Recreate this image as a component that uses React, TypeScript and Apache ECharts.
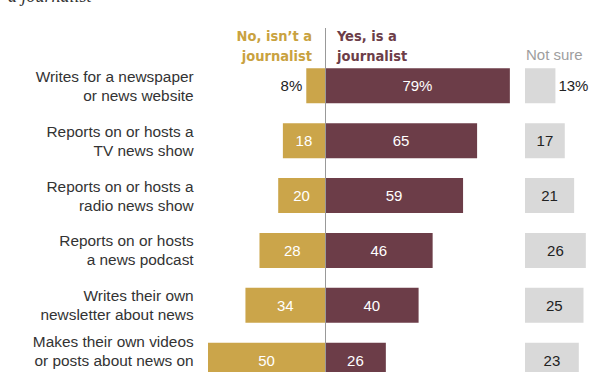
import React, { useEffect, useRef } from "react";
import * as echarts from "echarts";

const categories = [
  "Writes for a newspaper\nor news website",
  "Reports on or hosts a\nTV news show",
  "Reports on or hosts a\nradio news show",
  "Reports on or hosts\na news podcast",
  "Writes their own\nnewsletter about news",
  "Makes their own videos\nor posts about news on\nsocial media",
];
const noVals = [8, 18, 20, 28, 34, 50];
const yesVals = [79, 65, 59, 46, 40, 26];
const notSureVals = [13, 17, 21, 26, 25, 23];

const GOLD = "#CBA54A";
const MAROON = "#6C3D48";
const GRAY = "#D9D9D9";
const FONT = "'Liberation Sans', Arial, sans-serif";
const NARROW = "'Liberation Sans Narrow', 'DejaVu Sans Condensed', 'Liberation Sans', sans-serif";

export default function App() {
  const ref = useRef<HTMLDivElement>(null);
  useEffect(() => {
    document.body.style.margin = "0";
    const chart = echarts.init(ref.current!, null, { renderer: "svg" });
    const scale = 2.34;
    const center = 325;
    const min0 = -54;
    const max0 = 80;
    const top = 58.3;
    const rowH = 54.9;
    const gridH = rowH * categories.length;
    chart.setOption({
      animation: false,
      textStyle: { fontFamily: FONT },
      grid: [
        { left: center + min0 * scale, top, width: (max0 - min0) * scale, height: gridH },
        { left: 525, top, width: 30 * scale, height: gridH },
      ],
      xAxis: [
        { gridIndex: 0, type: "value", min: min0, max: max0, show: false },
        { gridIndex: 1, type: "value", min: 0, max: 30, show: false },
      ],
      yAxis: [
        {
          gridIndex: 0,
          type: "category",
          data: categories,
          inverse: true,
          axisLine: { show: false },
          axisTick: { show: false },
          axisLabel: { color: "#333", fontSize: 15.4, lineHeight: 19, margin: 5, fontFamily: FONT },
        },
        {
          gridIndex: 1,
          type: "category",
          data: categories,
          inverse: true,
          axisLine: { show: false },
          axisTick: { show: false },
          axisLabel: { show: false },
        },
      ],
      series: [
        {
          name: "No, isn't a journalist",
          type: "bar",
          xAxisIndex: 0,
          yAxisIndex: 0,
          barWidth: 35,
          itemStyle: { color: GOLD },
          data: noVals.map((v, i) => ({
            value: -v,
            label:
              i === 0
                ? { position: "left", color: "#222", distance: 4 }
                : undefined,
          })),
          label: {
            show: true,
            position: "inside",
            color: "#fff",
            fontSize: 15,
            fontFamily: FONT,
            formatter: (p: any) => (p.dataIndex === 0 ? `${noVals[p.dataIndex]}%` : `${noVals[p.dataIndex]}`),
          },
        },
        {
          name: "Yes, is a journalist",
          type: "bar",
          xAxisIndex: 0,
          yAxisIndex: 0,
          barWidth: 35,
          barGap: "-100%",
          itemStyle: { color: MAROON },
          data: yesVals,
          label: {
            show: true,
            position: "inside",
            color: "#fff",
            fontSize: 15,
            fontFamily: FONT,
            formatter: (p: any) => (p.dataIndex === 0 ? `${p.value}%` : `${p.value}`),
          },
        },
        {
          name: "Not sure",
          type: "bar",
          xAxisIndex: 1,
          yAxisIndex: 1,
          barWidth: 35,
          itemStyle: { color: GRAY },
          data: notSureVals.map((v, i) => ({
            value: v,
            label: i === 0 ? { position: "right", distance: 3 } : undefined,
          })),
          label: {
            show: true,
            position: "inside",
            color: "#222",
            fontSize: 15,
            fontFamily: FONT,
            formatter: (p: any) => (p.dataIndex === 0 ? `${p.value}%` : `${p.value}`),
          },
        },
      ],
      graphic: [
        {
          type: "text",
          x: 8,
          y: 5,
          style: {
            text: "a journalist",
            fontFamily: "'Liberation Serif', Georgia, serif",
            fontStyle: "italic",
            fontSize: 18,
            fill: "#333",
            verticalAlign: "bottom",
          },
        },
        {
          type: "line",
          shape: { x1: 325.5, y1: 28, x2: 325.5, y2: 420 },
          style: { stroke: "#999", lineWidth: 1 },
          z: 10,
        },
        {
          type: "text",
          x: 312,
          y: 26,
          style: {
            text: "No, isn\u2019t a\njournalist",
            fontFamily: NARROW,
            fontWeight: "bold",
            fontSize: 14.5,
            lineHeight: 20,
            fill: "#C9A23F",
            align: "right",
            verticalAlign: "top",
          },
        },
        {
          type: "text",
          x: 337,
          y: 26,
          style: {
            text: "Yes, is a\njournalist",
            fontFamily: NARROW,
            fontWeight: "bold",
            fontSize: 14.5,
            lineHeight: 20,
            fill: MAROON,
            align: "left",
            verticalAlign: "top",
          },
        },
        {
          type: "text",
          x: 526,
          y: 54,
          style: {
            text: "Not sure",
            fontFamily: FONT,
            fontSize: 15,
            fill: "#9E9E9E",
            align: "left",
            verticalAlign: "middle",
          },
        },
      ],
    });
    return () => chart.dispose();
  }, []);
  return (
    <div style={{ width: 600, height: 372, overflow: "hidden" }}>
      <div ref={ref} style={{ width: 600, height: 410 }} />
    </div>
  );
}
